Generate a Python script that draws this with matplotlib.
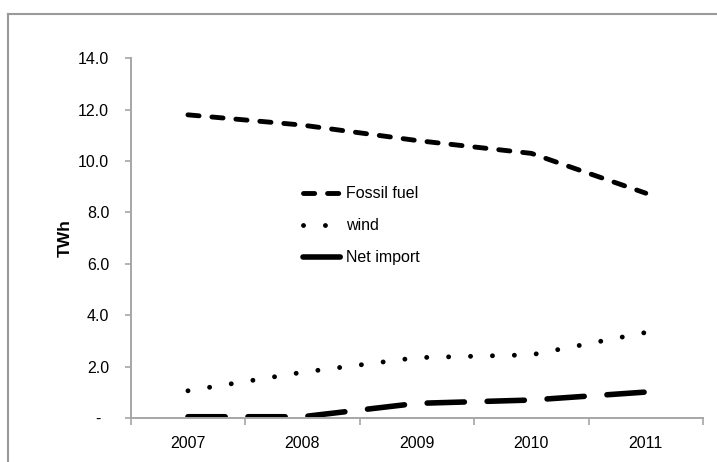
import matplotlib
matplotlib.use("Agg")
import matplotlib.pyplot as plt
from matplotlib.lines import Line2D
from matplotlib.transforms import ScaledTranslation

years = ["2007", "2008", "2009", "2010", "2011"]
fossil_fuel = [11.8, 11.4, 10.8, 10.3, 8.75]
wind = [1.06, 1.78, 2.35, 2.46, 3.33]
net_import = [0.05, 0.05, 0.57, 0.70, 1.01]
y_ticks = [0, 2, 4, 6, 8, 10, 12, 14]
y_labels = ["-", "2.0", "4.0", "6.0", "8.0", "10.0", "12.0", "14.0"]

FONT = ["Liberation Sans Narrow", "Liberation Sans", "DejaVu Sans"]
plt.rcParams["font.family"] = FONT

fig = plt.figure(figsize=(7.17, 4.62), dpi=100)
ax = fig.add_axes([0.1823, 0.0952, 0.9805 - 0.1823, 0.8738 - 0.0952])

x = list(range(len(years)))
ax.plot(x, fossil_fuel, color="black", lw=3.5, linestyle=(0, (2.3, 2.65)),
        dash_capstyle="round", solid_capstyle="round", label="Fossil fuel")
ax.plot(x, wind, color="black", lw=3.5, linestyle=(0, (0.01, 4.5)),
        dash_capstyle="round", label="wind")
ax.plot(x, net_import, color="black", lw=4.0, linestyle=(0, (6.7, 4.1)),
        dash_capstyle="round", label="Net import")

ax.set_xlim(-0.5, len(years) - 0.5)
ax.set_ylim(0, 14)

axis_color = "#a6a6a6"
for s in ["top", "right"]:
    ax.spines[s].set_visible(False)
for s in ["left", "bottom"]:
    ax.spines[s].set_color(axis_color)
    ax.spines[s].set_linewidth(1.4)

ax.set_yticks(y_ticks)
ax.set_yticklabels(y_labels, fontsize=11.5)
ax.tick_params(axis="y", length=4.5, width=1.2, color=axis_color, pad=11, labelcolor="black")
lbl0 = ax.get_yticklabels()[0]
lbl0.set_transform(lbl0.get_transform() + ScaledTranslation(-9 / 100, 0, fig.dpi_scale_trans))

ax.set_xticks(x)
ax.set_xticklabels(years, fontsize=11.5)
ax.set_xticks([i - 0.5 for i in range(len(years) + 1)], minor=True)
ax.tick_params(axis="x", which="major", length=0, pad=13, labelcolor="black")
ax.tick_params(axis="x", which="minor", length=5, width=1.2, color=axis_color)

ax.set_ylabel("TWh", fontsize=12.5, fontweight="bold", family=["Liberation Sans", "DejaVu Sans"])
ax.yaxis.set_label_coords(-0.102, 0.5)

leg = ax.legend(loc="upper left", bbox_to_anchor=(0.29, 0.662), frameon=False,
                fontsize=11.5, handlelength=2.6, handletextpad=0.1, labelspacing=1.07,
                borderaxespad=0)

fig.add_artist(Line2D([8 / 717, 8 / 717], [0, 1 - 13.5 / 462], transform=fig.transFigure,
                      color="#9a9a9a", lw=1.5))
fig.add_artist(Line2D([8 / 717, 1], [1 - 13.5 / 462, 1 - 13.5 / 462], transform=fig.transFigure,
                      color="#9a9a9a", lw=1.5))

fig.savefig("out.png", dpi=100)
